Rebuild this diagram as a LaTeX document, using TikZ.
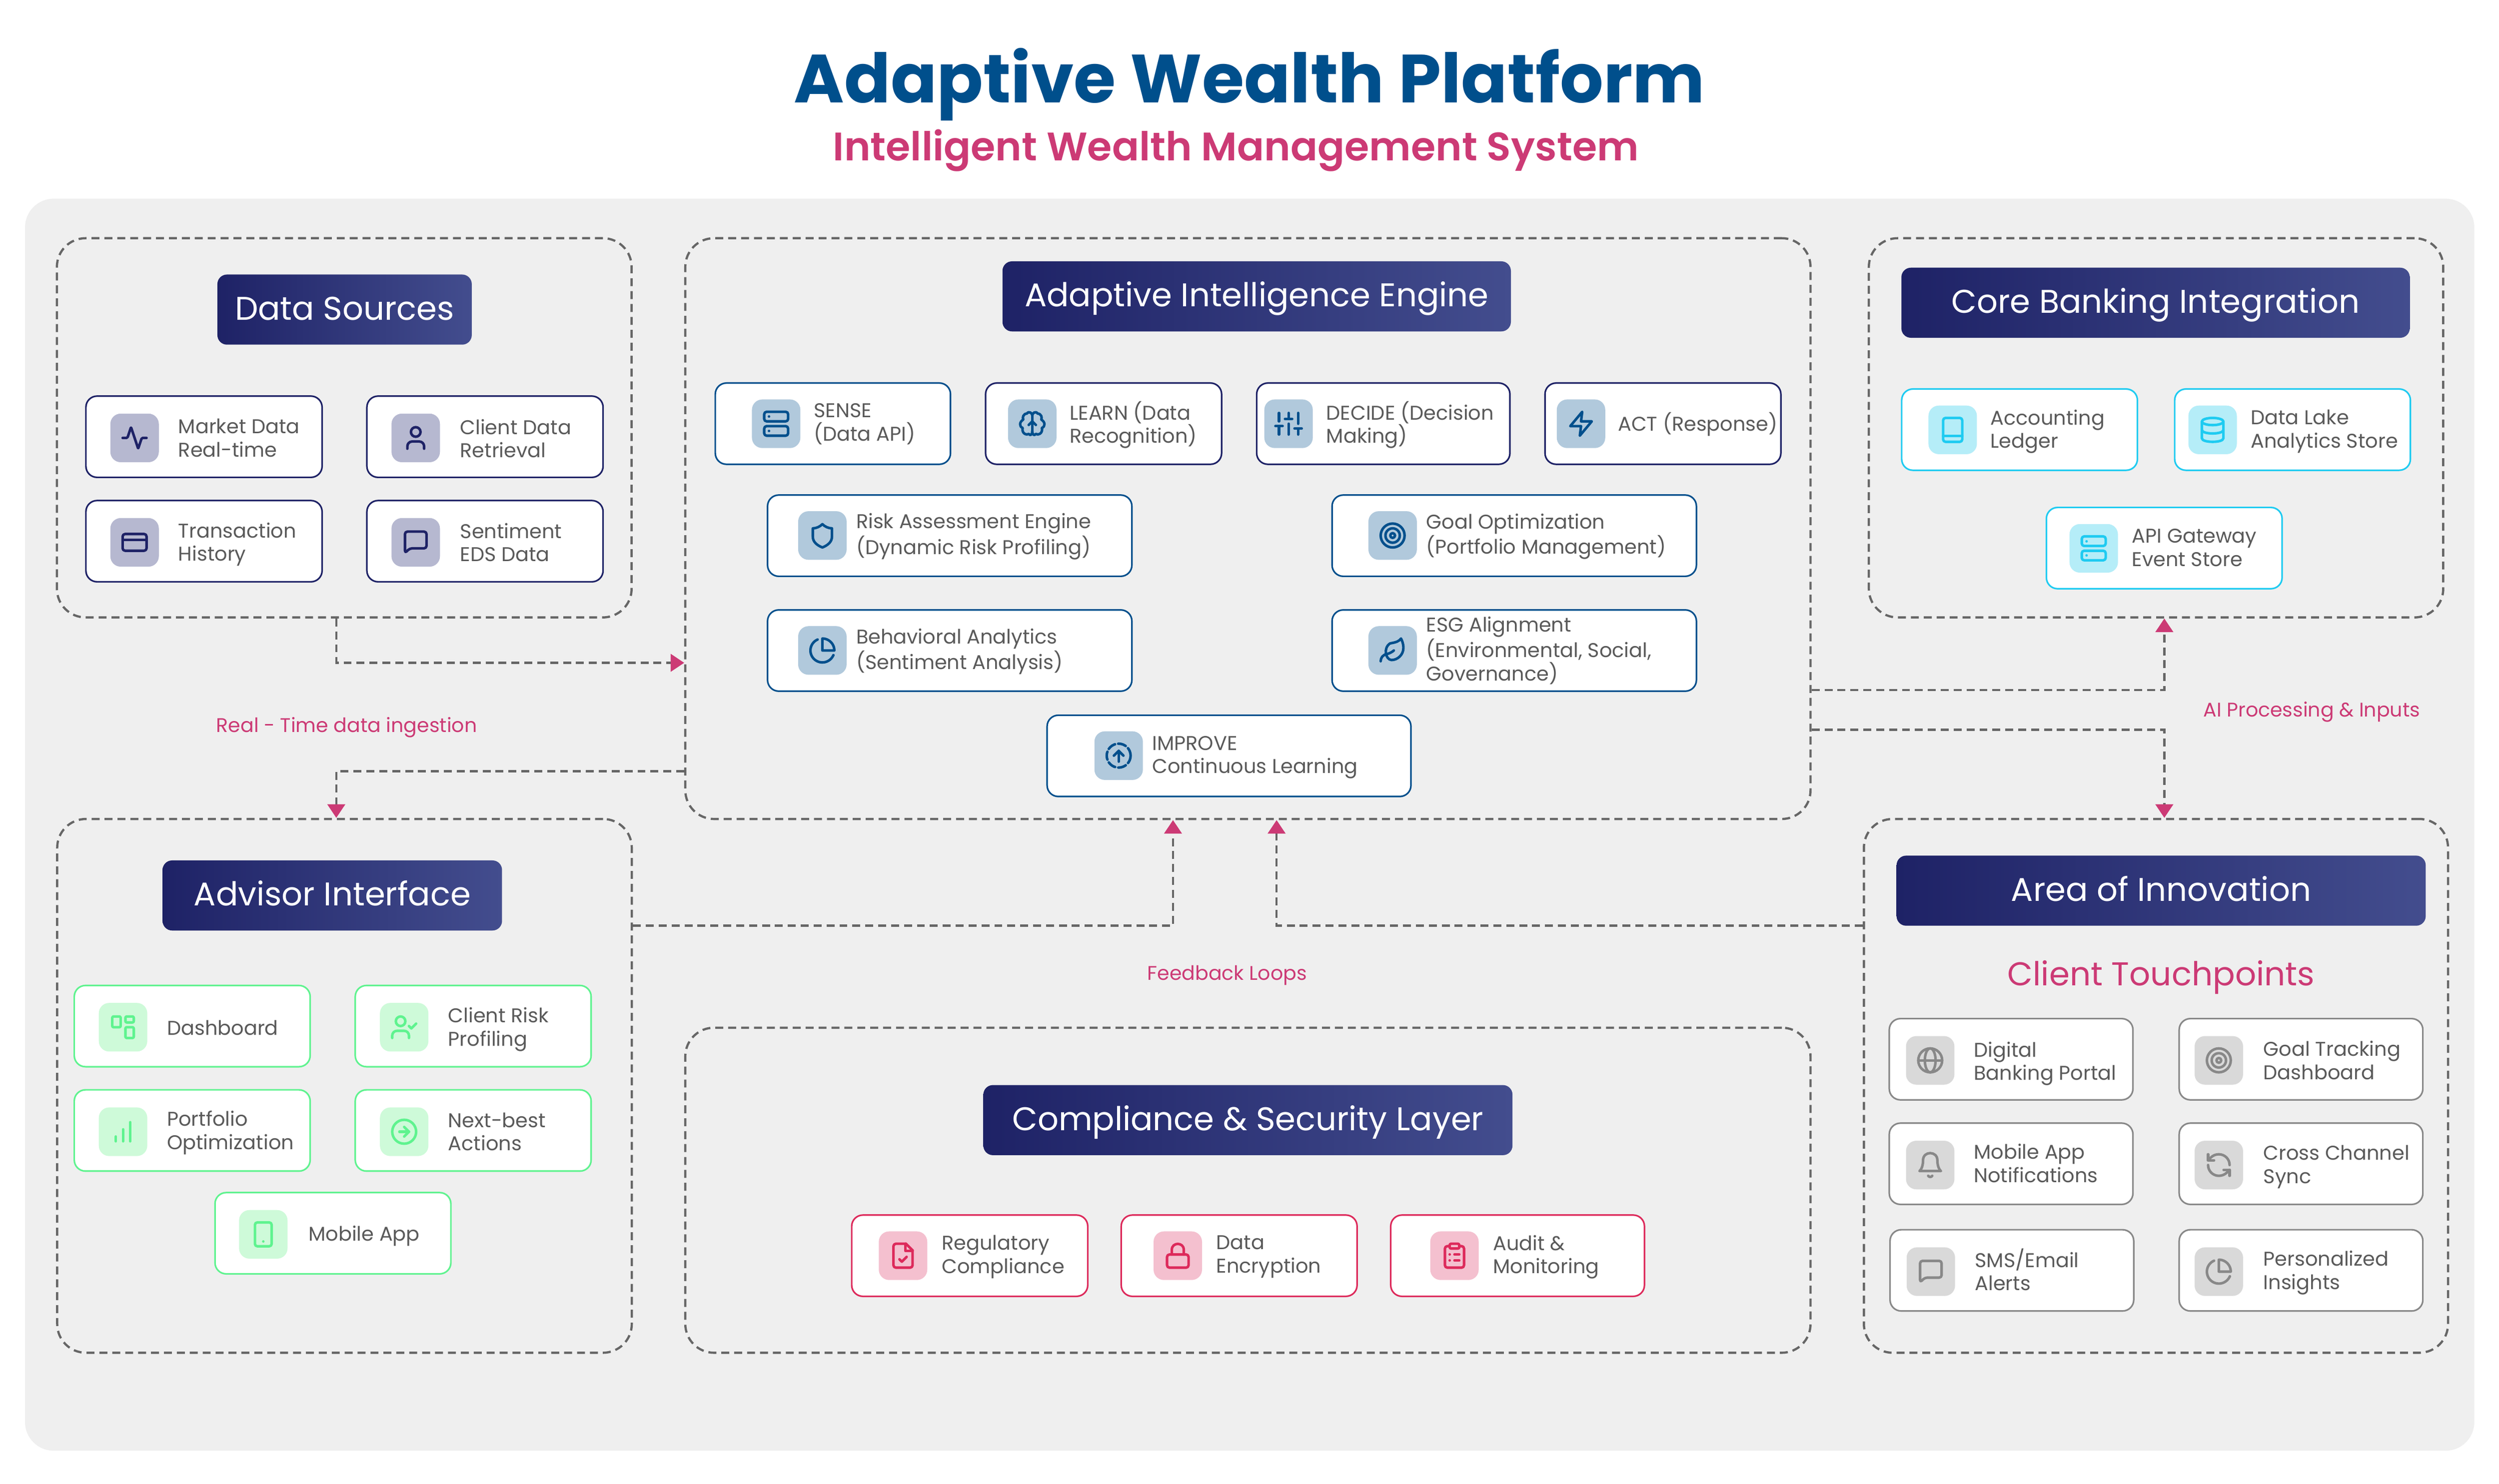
\documentclass[tikz,border=0pt]{standalone}
\usepackage{fontspec}
\usepackage{tikz}
\usetikzlibrary{arrows.meta}
\setmainfont{Poppins}
\newfontfamily\semifont{Poppins}[UprightFont=* SemiBold]

\definecolor{bgpanel}{HTML}{EFEFEF}
\definecolor{inktext}{HTML}{5A5A5A}
\definecolor{inkline}{HTML}{666666}
\definecolor{titleblue}{HTML}{004F8C}
\definecolor{accentpink}{HTML}{CC3A75}
\definecolor{pillleft}{HTML}{1E2266}
\definecolor{pillright}{HTML}{434D8E}
\definecolor{navyc}{HTML}{1E2266}
\definecolor{bluec}{HTML}{004F8C}
\definecolor{cyanc}{HTML}{1FCBF1}
\definecolor{greenc}{HTML}{5FF38F}
\definecolor{pinkc}{HTML}{DD2A5B}
\definecolor{greyc}{HTML}{888888}
\definecolor{navyt}{HTML}{B6B8D0}
\definecolor{bluet}{HTML}{B1C9DC}
\definecolor{cyant}{HTML}{B5EDF8}
\definecolor{greent}{HTML}{CEFAD9}
\definecolor{pinkt}{HTML}{F4C0CF}
\definecolor{greyt}{HTML}{D9D9D9}

\tikzset{
  groupbox/.style={draw=inkline, line width=1.4pt, dash pattern=on 5pt off 3.1pt,
    rounded corners=18pt, inner sep=0pt},
  titlepill/.style={left color=pillleft, right color=pillright, rounded corners=6pt,
    minimum height=44pt, inner sep=0pt, text=white, text height=15pt, text depth=2pt,
    font=\fontsize{20.6}{24}\selectfont},
  card/.style={draw=#1, fill=white, line width=1pt, rounded corners=7pt,
    minimum height=51pt, inner sep=0pt},
  tile/.style={fill=#1, rounded corners=6.5pt, minimum width=30.4pt,
    minimum height=30.5pt, inner sep=0pt},
  cardtext/.style={anchor=west, align=left, inner sep=0pt, text=inktext, yshift=-0.8pt,
    font=\fontsize{12.5}{14.6}\selectfont,
    execute at begin node=\strut, execute at end node=\strut},
  flowlabel/.style={inner sep=0pt, text=accentpink, text height=9pt, text depth=3pt,
    font=\fontsize{12.4}{15}\selectfont},
  flow/.style={draw=inkline, line width=1.4pt, dash pattern=on 5pt off 3.1pt},
  flowtip/.style={flow, -{Triangle[color=accentpink,length=8.5pt,width=11pt]}},
  iconpen/.style={color=#1, x=0.75pt, y=-0.75pt, shift={(-12,-12)},
    line width=1.6pt, line cap=round, line join=round},
  pics/pulse/.style={code={\draw[rounded corners=0.6pt] (2,12) -- (6,12) -- (9,3) -- (15,21) -- (18,12) -- (22,12);}},
  pics/person/.style={code={\draw (12,7) circle (4); \draw[rounded corners=3pt] (5,21) -- (5,15) -- (19,15) -- (19,21);}},
  pics/bankcard/.style={code={\draw[rounded corners=1.5pt] (2,5) rectangle (22,19); \draw (2,10) -- (22,10);}},
  pics/chat/.style={code={\draw[rounded corners=1.5pt] (3,21) -- (3,3) -- (21,3) -- (21,17) -- (7,17) -- cycle;}},
  pics/server/.style={code={\draw[rounded corners=1.5pt] (2,2) rectangle (22,10); \draw[rounded corners=1.5pt] (2,14) rectangle (22,22);
    \draw (6,6) -- (6.01,6); \draw (6,18) -- (6.01,18);}},
  pics/brain/.style={code={
    \draw (12,5) .. controls (12,3) and (9,1) .. (7.5,3.5) .. controls (4.5,3.5) and (3.5,7) .. (4.5,8.5) .. controls (1,10.5) and (1,14.5) .. (4,15.5) .. controls (3,19) and (6,22) .. (9,20.5) .. controls (10.5,22.5) and (12,21) .. (12,18);
    \draw (12,5) .. controls (12,3) and (15,1) .. (16.5,3.5) .. controls (19.5,3.5) and (20.5,7) .. (19.5,8.5) .. controls (23,10.5) and (23,14.5) .. (20,15.5) .. controls (21,19) and (18,22) .. (15,20.5) .. controls (13.5,22.5) and (12,21) .. (12,18);
    \draw (12,18) -- (12,5); \draw (9,13) -- (12,10) -- (15,13);}},
  pics/sliders/.style={code={\draw (4,21) -- (4,14) (4,10) -- (4,3) (12,21) -- (12,12) (12,8) -- (12,3) (20,21) -- (20,16) (20,12) -- (20,3)
    (1,14) -- (7,14) (9,8) -- (15,8) (17,16) -- (23,16);}},
  pics/bolt/.style={code={\draw (13,2) -- (3,14) -- (12,14) -- (11,22) -- (21,10) -- (12,10) -- cycle;}},
  pics/shieldmark/.style={code={\draw (12,22) .. controls (17,20) and (20,17) .. (20,13) -- (20,6) .. controls (17,6) and (14,4.5) .. (12,2.5)
    .. controls (10,4.5) and (7,6) .. (4,6) -- (4,13) .. controls (4,17) and (7,20) .. (12,22) -- cycle;}},
  pics/bullseye/.style={code={\draw (12,12) circle (10); \draw (12,12) circle (6); \draw (12,12) circle (2);}},
  pics/piechart/.style={code={\draw plot[domain=22.9:246.4,samples=30] ({12+10*cos(\x)},{12+10*sin(\x)});
    \draw plot[domain=0:-90,samples=12] ({12+10*cos(\x)},{12+10*sin(\x)}) -- (12,12) -- cycle;}},
  pics/leaf/.style={code={\draw (11,20) .. controls (6,19.5) and (4,10) .. (9.8,6.1) .. controls (15.5,5) and (17,4.48) .. (19,2) .. controls (20,4) and (21,6.18) .. (21,10) .. controls (21,15.5) and (16.22,20) .. (11,20) -- cycle;
    \draw (2,21) .. controls (2,18) and (3.85,15.64) .. (7.08,15) .. controls (9.5,14.52) and (12,13) .. (13,12);}},
  pics/loopup/.style={code={\draw[dash pattern=on 5pt off 2pt] (12,12) circle (10); \draw (12,17) -- (12,8); \draw (8,12) -- (12,8) -- (16,12);}},
  pics/ledger/.style={code={\draw[rounded corners=1.5pt] (4,2) rectangle (20,22); \draw (4,17) -- (20,17);}},
  pics/database/.style={code={\draw (12,5) ellipse [x radius=9,y radius=3]; \draw (3,5) -- (3,19) .. controls (3,23) and (21,23) .. (21,19) -- (21,5);
    \draw (3,12) .. controls (3,16) and (21,16) .. (21,12);}},
  pics/panels/.style={code={\draw[rounded corners=0.8pt] (3,3) rectangle (10,12); \draw[rounded corners=0.8pt] (14,3) rectangle (21,8); \draw[rounded corners=0.8pt] (14,12) rectangle (21,21);}},
  pics/personcheck/.style={code={\draw (9,7) circle (4); \draw[rounded corners=3pt] (2,21) -- (2,15) -- (16,15) -- (16,21); \draw (16,11) -- (18,13) -- (22,9);}},
  pics/bars/.style={code={\draw (12,20) -- (12,10) (18,20) -- (18,4) (6,20) -- (6,16);}},
  pics/nextarrow/.style={code={\draw (12,12) circle (10); \draw (8,12) -- (16,12); \draw (12,16) -- (16,12) -- (12,8);}},
  pics/phone/.style={code={\draw[rounded corners=1.5pt] (5,2) rectangle (19,22); \draw (12,18) -- (12.01,18);}},
  pics/filecheck/.style={code={\draw[rounded corners=1.5pt] (14.5,2) -- (4,2) -- (4,22) -- (20,22) -- (20,7.5); \draw (14.5,2) -- (20,7.5); \draw (14,2) -- (14,8) -- (20,8); \draw (9,15) -- (11,17) -- (15,13);}},
  pics/padlock/.style={code={\draw[rounded corners=1.5pt] (3,11) rectangle (21,22); \draw (7,11) -- (7,7) .. controls (7,0.5) and (17,0.5) .. (17,7) -- (17,11);}},
  pics/clipboard/.style={code={\draw[rounded corners=0.8pt] (8,2) rectangle (16,6); \draw[rounded corners=1.5pt] (16,4) -- (20,4) -- (20,22) -- (4,22) -- (4,4) -- (8,4);
    \draw (12,11) -- (16,11) (12,16) -- (16,16) (8,11) -- (8.01,11) (8,16) -- (8.01,16);}},
  pics/globe/.style={code={\draw (12,12) circle (10); \draw (12,12) ellipse [x radius=4.5,y radius=10]; \draw (2,12) -- (22,12);}},
  pics/bell/.style={code={\draw (6,8) .. controls (6,0) and (18,0) .. (18,8) .. controls (18,15) and (21,17) .. (21,17) -- (3,17) .. controls (3,17) and (6,15) .. (6,8); \draw (10.3,21) .. controls (11,22.3) and (13,22.3) .. (13.7,21);}},
  pics/syncarrows/.style={code={\draw (21,12) .. controls (21,7) and (17,3) .. (12,3) .. controls (9.4,3) and (7,4) .. (5.26,5.74) -- (3,8);
    \draw (3,3) -- (3,8) -- (8,8); \draw (3,12) .. controls (3,17) and (7,21) .. (12,21) .. controls (14.6,21) and (17,20) .. (18.74,18.26) -- (21,16); \draw (16,16) -- (21,16) -- (21,21);}},
}

\begin{document}
\begin{tikzpicture}[x=1pt, y=-1pt]
    \path[use as bounding box, fill=white] (0, 0) rectangle (1568, 931.2);
    \fill[bgpanel, rounded corners=18pt] (15.7, 124.7) rectangle (1552.5, 910.5);

    \node[inner sep=0pt, text=titleblue, text height=32pt, text depth=10pt, font=\fontsize{42.8}{50}\selectfont\bfseries] (maintitle) at (784, 53.4) {Adaptive Wealth Platform};
    \node[inner sep=0pt, text=accentpink, text height=19pt, text depth=7pt, font=\fontsize{25}{30}\selectfont\semifont] (subtitle) at (775.5, 94.7) {Intelligent Wealth Management System};

    % groups
    \node[groupbox, minimum width=360.6, minimum height=238] (dsbox) at (216, 268.5) {};
    \node[groupbox, minimum width=706, minimum height=364.5] (aiebox) at (783, 331.75) {};
    \node[groupbox, minimum width=360.4, minimum height=238] (corebox) at (1352.8, 268.5) {};
    \node[groupbox, minimum width=360.5, minimum height=335] (advbox) at (216.15, 681.5) {};
    \node[groupbox, minimum width=706, minimum height=204] (compbox) at (783, 747) {};
    \node[groupbox, minimum width=366.5, minimum height=335] (areabox) at (1352.75, 681.5) {};

    \node[titlepill, minimum width=159.6] (dspill) at (216.2, 194.3) {Data Sources};
    \node[titlepill, minimum width=319] (aiepill) at (788.5, 186) {Adaptive Intelligence Engine};
    \node[titlepill, minimum width=319] (corepill) at (1352.5, 190) {Core Banking Integration};
    \node[titlepill, minimum width=213] (advpill) at (208.5, 562) {Advisor Interface};
    \node[titlepill, minimum width=332] (comppill) at (783, 703) {Compliance \& Security Layer};
    \node[titlepill, minimum width=332] (areapill) at (1356, 559) {Area of Innovation};
    \node[inner sep=0pt, text=accentpink, text height=14pt, text depth=4pt, font=\fontsize{20.7}{24}\selectfont] (touchlabel) at (1356, 613.5) {Client Touchpoints};

    % data sources
    \node[card=navyc, minimum width=148.2] (mktcard) at (128, 274.1) {};
    \node[tile=navyt] (mkttile) at (84.45, 274.85) {};
    \node[cardtext] (mkttext) at (111.7, 276.1) {Market Data\\Real-time};
    \pic[iconpen=navyc] at (mkttile) {pulse};
    \node[card=navyc, minimum width=148.2] (clicard) at (304.3, 274.1) {};
    \node[tile=navyt] (clitile) at (260.85, 274.85) {};
    \node[cardtext] (clitext) at (288.5, 276.5) {Client Data\\Retrieval};
    \pic[iconpen=navyc] at (clitile) {person};
    \node[card=navyc, minimum width=148.2] (trxcard) at (128, 339.65) {};
    \node[tile=navyt] (trxtile) at (84.45, 340.4) {};
    \node[cardtext] (trxtext) at (111.7, 341.4) {Transaction\\History};
    \pic[iconpen=navyc] at (trxtile) {bankcard};
    \node[card=navyc, minimum width=148.2] (sencard) at (304.3, 339.65) {};
    \node[tile=navyt] (sentile) at (260.85, 340.4) {};
    \node[cardtext] (sentext) at (288.5, 341.7) {Sentiment\\EDS Data};
    \pic[iconpen=navyc] at (sentile) {chat};

    % intelligence engine
    \node[card=bluec, minimum width=147.6] (sensecard) at (522.6, 265.9) {};
    \node[tile=bluet] (sensetile) at (487, 265.95) {};
    \node[cardtext] (sensetext) at (510.4, 266.3) {SENSE\\(Data API)};
    \pic[iconpen=bluec] at (sensetile) {server};
    \node[card=navyc, minimum width=148.1] (learncard) at (692.45, 265.9) {};
    \node[tile=bluet] (learntile) at (647.7, 265.95) {};
    \node[cardtext] (learntext) at (671, 266.3) {LEARN (Data\\Recognition)};
    \pic[iconpen=bluec] at (learntile) {brain};
    \node[card=navyc, minimum width=158.9] (decidecard) at (867.95, 265.9) {};
    \node[tile=bluet] (decidetile) at (808.5, 265.95) {};
    \node[cardtext] (decidetext) at (832, 266.3) {DECIDE (Decision\\Making)};
    \pic[iconpen=bluec] at (decidetile) {sliders};
    \node[card=navyc, minimum width=148] (actcard) at (1043.4, 265.9) {};
    \node[tile=bluet] (acttile) at (992, 265.95) {};
    \node[cardtext] (acttext) at (1015, 266.05) {ACT (Response)};
    \pic[iconpen=bluec] at (acttile) {bolt};
    \node[card=bluec, minimum width=228.6] (riskcard) at (595.9, 336.2) {};
    \node[tile=bluet] (risktile) at (516, 336.1) {};
    \node[cardtext] (risktext) at (537, 336.4) {Risk Assessment Engine\\(Dynamic Risk Profiling)};
    \pic[iconpen=bluec] at (risktile) {shieldmark};
    \node[card=bluec, minimum width=228.6] (goalcard) at (950.1, 336.2) {};
    \node[tile=bluet] (goaltile) at (873.8, 336.1) {};
    \node[cardtext] (goaltext) at (894.7, 336.4) {Goal Optimization\\(Portfolio Management)};
    \pic[iconpen=bluec] at (goaltile) {bullseye};
    \node[card=bluec, minimum width=228.6] (behavcard) at (595.9, 408.3) {};
    \node[tile=bluet] (behavtile) at (516, 408.25) {};
    \node[cardtext] (behavtext) at (537, 408.6) {Behavioral Analytics\\(Sentiment Analysis)};
    \pic[iconpen=bluec] at (behavtile) {piechart};
    \node[card=bluec, minimum width=228.6] (esgcard) at (950.1, 408.3) {};
    \node[tile=bluet] (esgtile) at (873.8, 408.25) {};
    \node[cardtext] (esgtext) at (894.7, 408.55) {ESG Alignment\\(Environmental, Social,\\Governance)};
    \pic[iconpen=bluec] at (esgtile) {leaf};
    \node[card=bluec, minimum width=228.3] (impcard) at (771.15, 474.4) {};
    \node[tile=bluet] (imptile) at (701.9, 474.25) {};
    \node[cardtext] (imptext) at (722.8, 475) {IMPROVE\\Continuous Learning};
    \pic[iconpen=bluec] at (imptile) {loopup};

    % core banking
    \node[card=cyanc, minimum width=147.9] (acctcard) at (1267.15, 269.65) {};
    \node[tile=cyant] (accttile) at (1225.2, 269.8) {};
    \node[cardtext] (accttext) at (1248.7, 270.6) {Accounting\\Ledger};
    \pic[iconpen=cyanc] at (accttile) {ledger};
    \node[card=cyanc, minimum width=147.9] (lakecard) at (1438.45, 269.65) {};
    \node[tile=cyant] (laketile) at (1388.3, 269.8) {};
    \node[cardtext] (laketext) at (1412, 270.6) {Data Lake\\Analytics Store};
    \pic[iconpen=cyanc] at (laketile) {database};
    \node[card=cyanc, minimum width=147.9] (apicard) at (1357.95, 344) {};
    \node[tile=cyant] (apitile) at (1313.7, 344.15) {};
    \node[cardtext] (apitext) at (1337.5, 345.1) {API Gateway\\Event Store};
    \pic[iconpen=cyanc] at (apitile) {server};

    % advisor
    \node[card=greenc, minimum width=148] (dashcard) at (120.6, 644) {};
    \node[tile=greent] (dashtile) at (77.2, 644.7) {};
    \node[cardtext] (dashtext) at (104.6, 645.8) {Dashboard};
    \pic[iconpen=greenc] at (dashtile) {panels};
    \node[card=greenc, minimum width=148] (profcard) at (296.9, 644) {};
    \node[tile=greent] (proftile) at (253.6, 644.7) {};
    \node[cardtext] (proftext) at (281, 645.8) {Client Risk\\Profiling};
    \pic[iconpen=greenc] at (proftile) {personcheck};
    \node[card=greenc, minimum width=148] (portcard) at (120.6, 709.5) {};
    \node[tile=greent] (porttile) at (77.2, 710.3) {};
    \node[cardtext] (porttext) at (104.6, 710.6) {Portfolio\\Optimization};
    \pic[iconpen=greenc] at (porttile) {bars};
    \node[card=greenc, minimum width=148] (nextcard) at (296.9, 709.5) {};
    \node[tile=greent] (nexttile) at (253.6, 710.3) {};
    \node[cardtext] (nexttext) at (281, 711.65) {Next-best\\Actions};
    \pic[iconpen=greenc] at (nexttile) {nextarrow};
    \node[card=greenc, minimum width=148] (appcard) at (208.9, 774) {};
    \node[tile=greent] (apptile) at (165.2, 774.7) {};
    \node[cardtext] (apptext) at (193.4, 775.05) {Mobile App};
    \pic[iconpen=greenc] at (apptile) {phone};

    % compliance
    \node[card=pinkc, minimum width=148.1] (regcard) at (608.45, 788.1) {};
    \node[tile=pinkt] (regtile) at (566.6, 788.1) {};
    \node[cardtext] (regtext) at (590.8, 788.6) {Regulatory\\Compliance};
    \pic[iconpen=pinkc] at (regtile) {filecheck};
    \node[card=pinkc, minimum width=148] (enccard) at (777.5, 788.1) {};
    \node[tile=pinkt] (enctile) at (739, 788.1) {};
    \node[cardtext] (enctext) at (763, 788.6) {Data\\Encryption};
    \pic[iconpen=pinkc] at (enctile) {padlock};
    \node[card=pinkc, minimum width=159.2] (audcard) at (952.2, 788.1) {};
    \node[tile=pinkt] (audtile) at (912.6, 788.1) {};
    \node[cardtext] (audtext) at (936.6, 788.6) {Audit \&\\Monitoring};
    \pic[iconpen=pinkc] at (audtile) {clipboard};

    % touchpoints
    \node[card=greyc, minimum width=152.9] (digicard) at (1261.85, 664.8) {};
    \node[tile=greyt] (digitile) at (1211.1, 665.5) {};
    \node[cardtext] (digitext) at (1238.3, 667.3) {Digital\\Banking Portal};
    \pic[iconpen=greyc] at (digitile) {globe};
    \node[card=greyc, minimum width=152.9] (trackcard) at (1443.75, 664.8) {};
    \node[tile=greyt] (tracktile) at (1392.2, 665.5) {};
    \node[cardtext] (tracktext) at (1420, 666.8) {Goal Tracking\\Dashboard};
    \pic[iconpen=greyc] at (tracktile) {bullseye};
    \node[card=greyc, minimum width=152.9] (notecard) at (1261.85, 730.4) {};
    \node[tile=greyt] (notetile) at (1211.1, 731.2) {};
    \node[cardtext] (notetext) at (1238.3, 731.4) {Mobile App\\Notifications};
    \pic[iconpen=greyc] at (notetile) {bell};
    \node[card=greyc, minimum width=152.9] (synccard) at (1443.75, 730.4) {};
    \node[tile=greyt] (synctile) at (1392.2, 731.2) {};
    \node[cardtext] (synctext) at (1420, 732.2) {Cross Channel\\Sync};
    \pic[iconpen=greyc] at (synctile) {syncarrows};
    \node[card=greyc, minimum width=152.9] (smscard) at (1262.35, 797.3) {};
    \node[tile=greyt] (smstile) at (1211.5, 798.1) {};
    \node[cardtext] (smstext) at (1239, 798.1) {SMS/Email\\Alerts};
    \pic[iconpen=greyc] at (smstile) {chat};
    \node[card=greyc, minimum width=152.9] (inscard) at (1443.75, 797.3) {};
    \node[tile=greyt] (instile) at (1392.2, 798.1) {};
    \node[cardtext] (instext) at (1420, 798.5) {Personalized\\Insights};
    \pic[iconpen=greyc] at (instile) {piechart};

    % connectors
    \draw[flowtip] ([xshift=-5pt]dsbox.south) |- ([yshift=-84.25pt]aiebox.west);
    \draw[flowtip] ([yshift=-152.25pt]aiebox.west) -| ([xshift=-5.15pt]advbox.north);
    \draw[flowtip] ([yshift=100.5pt]advbox.east) -| ([xshift=-47pt]aiebox.south);
    \draw[flowtip] ([yshift=100.5pt]areabox.west) -| ([xshift=18pt]aiebox.south);
    \draw[flowtip] ([yshift=-101.25pt]aiebox.east) -| ([xshift=5.2pt]corebox.south);
    \draw[flowtip] ([yshift=-126.25pt]aiebox.east) -| ([xshift=5.25pt]areabox.north);

    \node[flowlabel] (ingestlabel) at (217.5, 456.5) {Real - Time data ingestion};
    \node[flowlabel] (feedlabel) at (770, 612) {Feedback Loops};
    \node[flowlabel] (ailabel) at (1450.5, 447) {AI Processing \& Inputs};
  \end{tikzpicture}
\end{document}
